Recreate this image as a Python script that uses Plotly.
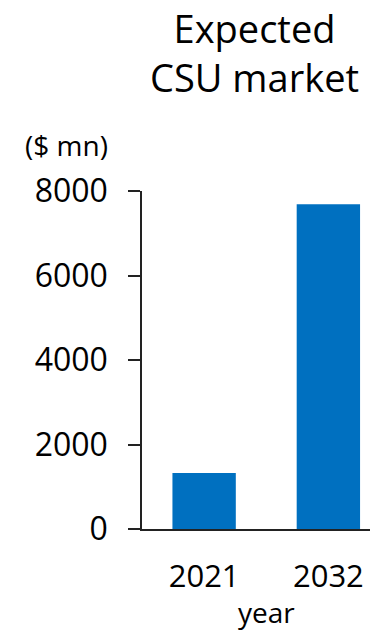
import plotly.graph_objects as go

# Market size in $ mn by year
years = ["2021", "2032"]
market_size = [1325, 7685]
y_ticks = [0, 2000, 4000, 6000, 8000]

W, H = 370, 634
ML, MR, MT, MB = 142, 0, 191, 105
PLOT_H = H - MT - MB
PLOT_W = W - ML - MR

FONT = "Open Sans, Segoe UI, sans-serif"
BLUE = "#0070C0"


def px_x(px):
    """Horizontal pixel position -> paper fraction."""
    return (px - ML) / PLOT_W


def px_y(py):
    """Vertical pixel position (from top) -> paper fraction."""
    return (H - MB - py) / PLOT_H


fig = go.Figure(
    go.Bar(
        x=years,
        y=market_size,
        marker=dict(color=BLUE, line=dict(width=0)),
        width=0.51,
        hoverinfo="x+y",
    )
)

fig.update_layout(
    width=W,
    height=H,
    margin=dict(l=ML, r=MR, t=MT, b=MB, pad=0),
    paper_bgcolor="white",
    plot_bgcolor="white",
    showlegend=False,
    font=dict(family=FONT, color="black"),
    xaxis=dict(
        type="category",
        range=[-0.5, 1.335],
        showgrid=False,
        zeroline=False,
        showline=True,
        linecolor="#222222",
        linewidth=1.5,
        ticks="",
        tickfont=dict(size=31, color="black"),
        ticklabelstandoff=19,
    ),
    yaxis=dict(
        range=[0, 8000],
        tickvals=y_ticks,
        ticktext=[str(v) for v in y_ticks],
        showgrid=False,
        zeroline=False,
        showline=True,
        linecolor="#222222",
        linewidth=1.5,
        ticks="outside",
        ticklen=12,
        tickwidth=1.5,
        tickcolor="#222222",
        tickfont=dict(size=32, color="black"),
        ticklabelstandoff=14,
    ),
    annotations=[
        dict(
            text="Expected<br>CSU market",
            xref="paper", yref="paper",
            x=px_x(254), y=px_y(52),
            showarrow=False, align="center",
            xanchor="center", yanchor="middle",
            font=dict(size=38, color="black", family=FONT),
        ),
        dict(
            text="($ mn)",
            xref="paper", yref="paper",
            x=px_x(66), y=px_y(145),
            showarrow=False, xanchor="center", yanchor="middle",
            font=dict(size=28, color="black", family=FONT),
        ),
        dict(
            text="year",
            xref="x", yref="paper",
            x=0.5, y=px_y(612),
            showarrow=False, xanchor="center", yanchor="middle",
            font=dict(size=28, color="black", family=FONT),
        ),
    ],
)

fig.write_html("out.html")
